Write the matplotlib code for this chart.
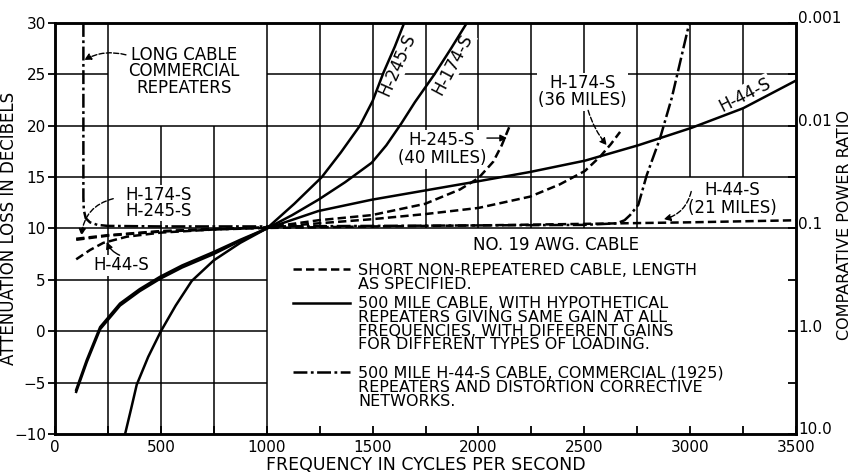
import matplotlib
matplotlib.use('Agg')
import matplotlib.pyplot as plt
from matplotlib.lines import Line2D
from matplotlib.transforms import ScaledTranslation

plt.rcParams['font.family'] = ['DejaVu Sans']
plt.rcParams['lines.scale_dashes'] = False

# ---------------- data ----------------
# 500 mile cable, hypothetical repeaters (solid)
h245_500_f = [100, 150, 213, 307, 400, 496, 600, 748, 875, 1000, 1130, 1260, 1350, 1440, 1500, 1552, 1605, 1653]
h245_500_db = [-5.9, -3.0, 0.2, 2.5, 3.9, 5.1, 6.2, 7.5, 8.8, 10.0, 12.4, 15.0, 17.4, 20.0, 22.4, 25.2, 27.7, 30.2]
h174_500_f = [100, 150, 213, 307, 400, 496, 600, 748, 875, 1000, 1120, 1244, 1370, 1496, 1565, 1635, 1700, 1792, 1870, 1945]
h174_500_db = [-5.7, -2.8, 0.4, 2.7, 4.1, 5.3, 6.4, 7.7, 8.9, 10.0, 11.3, 12.8, 14.5, 16.4, 18.1, 20.2, 22.3, 25.0, 27.5, 30.0]
h44_500_f = [331, 360, 386, 440, 500, 570, 646, 750, 875, 1000, 1244, 1496, 1748, 2000, 2244, 2503, 2755, 3007, 3250, 3500]
h44_500_db = [-10.0, -7.5, -5.2, -2.5, 0.0, 2.5, 4.9, 6.9, 8.6, 10.0, 11.7, 12.8, 13.7, 14.6, 15.5, 16.6, 18.1, 19.8, 21.7, 24.4]

# short non-repeatered cable (dashed)
h245_40_f = [100, 250, 500, 750, 1000, 1244, 1496, 1748, 1913, 2000, 2070, 2110, 2152]
h245_40_db = [8.9, 9.3, 9.7, 9.9, 10.1, 10.8, 11.3, 12.4, 13.8, 14.9, 16.5, 18.1, 20.2]
h174_36_f = [100, 250, 500, 750, 1000, 1244, 1496, 1748, 2000, 2244, 2385, 2503, 2575, 2625, 2669]
h174_36_db = [9.0, 9.35, 9.75, 9.95, 10.1, 10.5, 10.9, 11.4, 12.0, 13.1, 14.3, 15.6, 17.0, 18.2, 19.4]
h44_21_f = [100, 165, 228, 339, 500, 750, 1000, 1500, 2000, 2500, 3000, 3500]
h44_21_db = [7.0, 7.9, 8.6, 9.2, 9.6, 9.9, 10.05, 10.2, 10.3, 10.45, 10.6, 10.8]

# 500 mile H-44-S cable, commercial (1925) repeaters (dash-dot)
comm_f = [134, 134, 136, 145, 165, 200, 250, 500, 1000, 1500, 2000, 2500, 2653, 2690, 2716, 2755, 2795, 2858, 2913, 2996]
comm_db = [30.0, 13.0, 11.8, 11.0, 10.6, 10.35, 10.25, 10.2, 10.2, 10.25, 10.3, 10.35, 10.5, 10.8, 11.3, 12.3, 15.2, 18.8, 22.7, 30.0]

x_ticks = [0, 500, 1000, 1500, 2000, 2500, 3000, 3500]
y_ticks = [-10, -5, 0, 5, 10, 15, 20, 25, 30]
ratio_db = [-10, 0, 10, 20, 30]
ratio_labels = ['10.0', '1.0', '0.1', '0.01', '0.001']

legend_dashed = ['SHORT NON-REPEATERED CABLE, LENGTH', 'AS SPECIFIED.']
legend_solid = ['500 MILE CABLE, WITH HYPOTHETICAL', 'REPEATERS GIVING SAME GAIN AT ALL',
                'FREQUENCIES, WITH DIFFERENT GAINS', 'FOR DIFFERENT TYPES OF LOADING.']
legend_dashdot = ['500 MILE H-44-S CABLE, COMMERCIAL (1925)', 'REPEATERS AND DISTORTION CORRECTIVE',
                  'NETWORKS.']

# ---------------- figure ----------------
fig = plt.figure(figsize=(8.53, 4.73), dpi=100)
ax = fig.add_axes([0.0645, 0.0825, 0.8687, 0.8689])
ax.set_xlim(0, 3500)
ax.set_ylim(-10, 30)

gkw = dict(color='black', lw=1.1, zorder=1)
ax.hlines([10, 15, 20], 0, 3500, **gkw)
ax.hlines([-5, 0, 5], 0, 1000, **gkw)
ax.hlines(25, 0, 250, **gkw)
ax.hlines(25, 1000, 3500, **gkw)
ax.vlines([250, 1000], -10, 30, **gkw)
ax.vlines([500, 750], -10, 20, **gkw)
ax.vlines([1250, 1500, 1750, 2000, 2250, 2500, 2750], 10, 30, **gkw)
ax.vlines([3000, 3250], 15, 30, **gkw)

LW = 1.8
DASH = (6, 3)
DASHDOT = (10, 2.5, 2, 2.5)
ax.plot(h245_500_f, h245_500_db, color='k', lw=LW, zorder=4)
ax.plot(h174_500_f, h174_500_db, color='k', lw=LW, zorder=4)
ax.plot(h44_500_f, h44_500_db, color='k', lw=LW, zorder=4)
ax.plot(h245_40_f, h245_40_db, color='k', lw=LW, dashes=DASH, zorder=4)
ax.plot(h174_36_f, h174_36_db, color='k', lw=LW, dashes=DASH, zorder=4)
ax.plot(h44_21_f, h44_21_db, color='k', lw=LW, dashes=DASH, zorder=4)
ax.plot(comm_f, comm_db, color='k', lw=LW, dashes=DASHDOT, zorder=4)

# axes styling
for s in ax.spines.values():
    s.set_linewidth(1.8)
ax.set_xticks(x_ticks)
ax.set_xticks([v for v in range(250, 3500, 250) if v % 500], minor=True)
ax.set_yticks(y_ticks)
ax.tick_params(axis='x', which='both', direction='in', length=6, width=1.3, labelsize=11, pad=4)
ax.tick_params(axis='y', which='both', direction='out', length=5, width=1.3, labelsize=11, pad=1.5)

tw = ax.twinx()
tw.set_ylim(-10, 30)
tw.set_yticks(ratio_db)
tw.set_yticklabels(ratio_labels)
tw.set_yticks([-5, 5, 15, 25], minor=True)
tw.tick_params(axis='y', which='both', direction='in', length=6, width=1.3, labelsize=11, pad=1.5)
for s in tw.spines.values():
    s.set_linewidth(1.8)
shift_up = ScaledTranslation(0, 4 / 72, fig.dpi_scale_trans)
for t in tw.get_yticklabels():
    t.set_transform(t.get_transform() + shift_up)

FS = 12
ax.set_xlabel('FREQUENCY IN CYCLES PER SECOND', fontsize=12.5, labelpad=1)
ax.set_ylabel('ATTENUATION LOSS IN DECIBELS', fontsize=12)
ax.yaxis.set_label_coords(-0.05, 0.499)
tw.set_ylabel('COMPARATIVE POWER RATIO', fontsize=11.5)
tw.yaxis.set_label_coords(1.055, 0.5085)

wb = dict(facecolor='white', edgecolor='none', pad=1.0)

def label(x, y, s, rot=0, box=True, ls=1.0):
    ax.text(x, y, s, fontsize=FS, rotation=rot, ha='center', va='center', multialignment='center',
            linespacing=ls, zorder=3, bbox=wb if box else None, rotation_mode='anchor')

def arrow(xy, xytext, ls='--', rad=0.0):
    ax.annotate('', xy=xy, xytext=xytext, zorder=5,
                arrowprops=dict(arrowstyle='-|>', lw=1.0, color='k', linestyle=ls,
                                connectionstyle='arc3,rad=%g' % rad, mutation_scale=10,
                                shrinkA=0, shrinkB=0))

label(609, 25.3, 'LONG CABLE\nCOMMERCIAL\nREPEATERS', box=False, ls=0.88)
arrow((138, 26.4), (335, 26.9), '--', 0.2)

label(487, 12.5, 'H-174-S\nH-245-S', ls=0.85)
arrow((125, 9.3), (275, 12.9), '--', 0.35)

label(311, 6.4, 'H-44-S')
arrow((244, 8.7), (305, 7.4), '-', -0.2)

label(1618, 25.9, 'H-245-S', rot=66)
label(1878, 26.0, 'H-174-S', rot=62)

label(1828, 17.7, 'H-245-S\n(40 MILES)', ls=1.0)
arrow((2135, 18.8), (2040, 18.8), '-', 0.0)

label(2490, 23.3, 'H-174-S\n(36 MILES)', ls=0.95)
arrow((2606, 18.1), (2518, 21.5), '--', 0.1)

label(3258, 23.0, 'H-44-S', rot=27)

label(3198, 12.85, 'H-44-S\n(21 MILES)', ls=1.0)
arrow((2875, 10.9), (3005, 13.6), '--', -0.3)

ax.text(0.676, 0.46, 'NO. 19 AWG. CABLE', transform=ax.transAxes, fontsize=FS, ha='center', va='center')

# legend (manual)
hx0, hx1, tx = 0.321, 0.398, 0.409
ax.add_line(Line2D([hx0, hx1], [0.4015, 0.4015], transform=ax.transAxes, color='k', lw=LW, dashes=DASH))
ax.add_line(Line2D([hx0, hx1], [0.319, 0.319], transform=ax.transAxes, color='k', lw=LW))
ax.add_line(Line2D([hx0, hx1], [0.151, 0.151], transform=ax.transAxes, color='k', lw=LW, dashes=DASHDOT))
for lines, ytop in ((legend_dashed, 0.416), (legend_solid, 0.3358), (legend_dashdot, 0.1655)):
    ax.text(tx, ytop, '\n'.join(lines), transform=ax.transAxes, fontsize=11.5, ha='left', va='top',
            linespacing=0.9)

fig.savefig('out.png', dpi=100)
